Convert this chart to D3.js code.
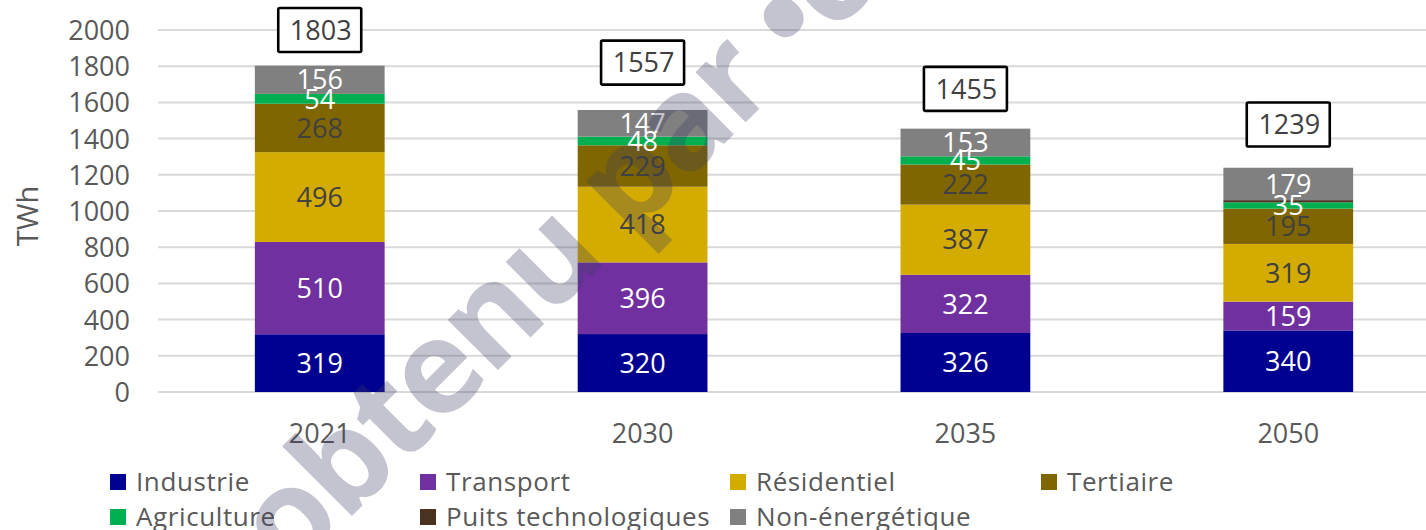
<!DOCTYPE html>
<html>
<head>
<meta charset="utf-8">
<script src="https://cdn.jsdelivr.net/npm/d3@7"></script>
<style>
  html, body { margin: 0; padding: 0; background: #fff; }
  svg { display: block; }
  text { font-family: "Open Sans", sans-serif; }
</style>
</head>
<body>
<svg id="chart" width="1426" height="530"></svg>
<script>
// ---- Data ----
const categories = ["2021", "2030", "2035", "2050"];
const seriesNames = ["Industrie", "Transport", "Résidentiel", "Tertiaire", "Agriculture", "Puits technologiques", "Non-énergétique"];
const industrie = [319, 320, 326, 340];
const transport = [510, 396, 322, 159];
const residentiel = [496, 418, 387, 319];
const tertiaire = [268, 229, 222, 195];
const agriculture = [54, 48, 45, 35];
const puits = [0, 0, 0, 12];
const nonEnergetique = [156, 147, 153, 179];
const totals = [1803, 1557, 1455, 1239];
const totalLabelAt = [2000, 1820, 1675, 1478];
const yTicks = [0, 200, 400, 600, 800, 1000, 1200, 1400, 1600, 1800, 2000];
const showLabel = [true, true, true, true, true, false, true];

const seriesValues = [industrie, transport, residentiel, tertiaire, agriculture, puits, nonEnergetique];
const colors = ["#000091", "#7030A0", "#D4AC00", "#806600", "#00B050", "#4A3220", "#808080"];
const labelColors = ["#ffffff", "#ffffff", "#404040", "#404040", "#ffffff", "#ffffff", "#ffffff"];

const rows = categories.map((c, i) => {
  const r = { cat: c };
  seriesNames.forEach((s, j) => r[s] = seriesValues[j][i]);
  return r;
});
const stacked = d3.stack().keys(seriesNames)(rows);

const svg = d3.select("#chart");
const x = d3.scaleBand().domain(categories).range([158, 1450]).paddingInner(0.598).paddingOuter(0.3);
const y = d3.scaleLinear().domain([0, 2000]).range([392, 30]);

// gridlines
svg.append("g").selectAll("line").data(yTicks).join("line")
  .attr("x1", 158).attr("x2", 1426)
  .attr("y1", d => y(d)).attr("y2", d => y(d))
  .attr("stroke", "#d9d9d9").attr("stroke-width", 2);

// y axis labels
const yAxis = d3.axisLeft(y).tickValues(yTicks).tickSize(0).tickPadding(0).tickFormat(d3.format("d"));
const ya = svg.append("g").attr("transform", "translate(130,0)").call(yAxis);
ya.select(".domain").remove();
ya.selectAll("text").attr("font-size", 27).attr("fill", "#595959")
  .attr("font-family", "Open Sans, sans-serif").attr("dy", "0.35em");

// y title
svg.append("text").attr("transform", "translate(38,216) rotate(-90)")
  .attr("text-anchor", "middle").attr("font-size", 29).attr("fill", "#595959").text("TWh");

// x axis labels
const xAxis = d3.axisBottom(x).tickSize(0).tickPadding(0);
const xa = svg.append("g").attr("transform", "translate(0,443)").call(xAxis);
xa.select(".domain").remove();
xa.selectAll("text").attr("font-size", 27).attr("fill", "#595959")
  .attr("font-family", "Open Sans, sans-serif").attr("dy", "0");

// bars
const bw = x.bandwidth();
stacked.forEach((layer, j) => {
  const g = svg.append("g");
  g.selectAll("rect").data(layer).join("rect")
    .attr("x", d => x(d.data.cat)).attr("width", bw)
    .attr("y", d => y(d[1])).attr("height", d => y(d[0]) - y(d[1]))
    .attr("fill", colors[j]);
});
// labels
stacked.forEach((layer, j) => {
  if (!showLabel[j]) return;
  svg.append("g").selectAll("text").data(layer).join("text")
    .attr("x", d => x(d.data.cat) + bw / 2)
    .attr("y", d => y((d[0] + d[1]) / 2))
    .attr("dy", "0.36em")
    .attr("text-anchor", "middle").attr("font-size", 27)
    .attr("fill", labelColors[j])
    .text(d => d[1] - d[0]);
});

// total boxes
const tg = svg.append("g");
categories.forEach((c, i) => {
  const cx = x(c) + bw / 2, cy = y(totalLabelAt[i]);
  tg.append("rect").attr("x", cx - 41.5).attr("y", cy - 22).attr("width", 83).attr("height", 44)
    .attr("fill", "#fff").attr("stroke", "#000").attr("stroke-width", 2.6).attr("rx", 1.5);
  tg.append("text").attr("x", cx + 1).attr("y", cy).attr("dy", "0.36em")
    .attr("text-anchor", "middle").attr("font-size", 27).attr("fill", "#404040").text(totals[i]);
});

// legend
const legCols = [110, 420, 730, 1041];
const legRows = [482, 517];
const lg = svg.append("g");
seriesNames.forEach((s, i) => {
  const col = i % 4, row = Math.floor(i / 4);
  const lx = legCols[col], ly = legRows[row];
  lg.append("rect").attr("x", lx).attr("y", ly - 8).attr("width", 16).attr("height", 16).attr("fill", colors[i]);
  lg.append("text").attr("x", lx + 26).attr("y", ly).attr("dy", "0.36em")
    .attr("font-size", 26).attr("letter-spacing", 0.6).attr("fill", "#595959").text(s);
});

// watermark
svg.append("text")
  .attr("transform", "translate(290,578) rotate(-45)")
  .attr("font-size", 130).attr("font-weight", 700).attr("letter-spacing", -3)
  .attr("fill", "rgb(60,60,100)").attr("fill-opacity", 0.3)
  .text("obtenu par •contexte");
</script>
</body>
</html>
